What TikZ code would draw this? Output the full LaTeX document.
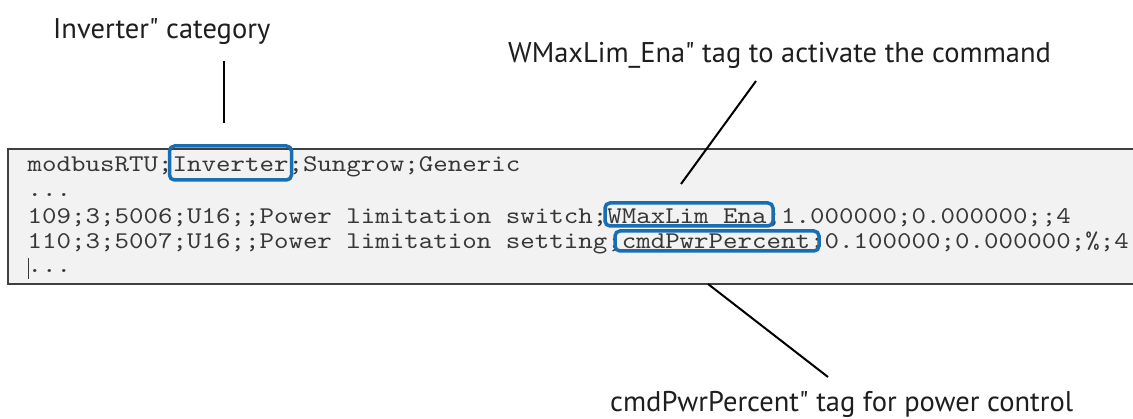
\documentclass[tikz,border=0pt]{standalone}
\usepackage{fontspec}
\newfontfamily\labelfont{PT Sans}
\newfontfamily\codefont[FakeStretch=1.15]{lmmono10-regular.otf}
\definecolor{tagblue}{RGB}{24,110,178}
\definecolor{codegray}{RGB}{242,242,242}
\definecolor{codetext}{RGB}{55,55,55}
\definecolor{labeltext}{RGB}{30,30,30}
\begin{document}
\begin{tikzpicture}[x=1pt,y=-1pt,
  lbl/.style={font=\labelfont\fontsize{28.5}{31}\selectfont, text=labeltext, anchor=base west, inner sep=0pt},
  codeline/.style={font=\codefont\fontsize{24}{26}\selectfont, text=codetext, anchor=base west, inner sep=0pt},
  tagbox/.style={draw=tagblue, line width=3.5pt, rounded corners=5pt, inner sep=0pt},
  leader/.style={draw=black, line width=2pt}]
\useasboundingbox (0,0) rectangle (1133,419);
% code panel
\fill[codegray] (8,149) rectangle (1140,284);
\draw[line width=1.4pt, draw=black!75] (1140,149) -- (8,149) -- (8,284) -- (1140,284);
% code lines
\node[codeline] (l1) at (27.5,172) {modbusRTU;Inverter;Sungrow;Generic};
\node[codeline] (l2) at (27.5,197) {...};
\node[codeline] (l3) at (27.5,224) {109;3;5006;U16;;Power limitation switch;WMaxLim Ena;1.000000;0.000000;;4};
\node[codeline] (l4) at (27.5,249) {110;3;5007;U16;;Power limitation setting;cmdPwrPercent;0.100000;0.000000;\%;4};
\node[codeline] (l5) at (27.5,273) {...};
\draw[line width=1pt, draw=codetext] (28,258) -- (28,279);
% tag boxes
\node[tagbox, minimum width=122pt, minimum height=34pt] (invbox) at (230.5,163) {};
\node[tagbox, minimum width=168pt, minimum height=23pt] (enabox) at (689,214.5) {};
\node[tagbox, minimum width=204pt, minimum height=20pt] (pwrbox) at (717,241) {};
% labels
\node[lbl] (invlabel) at (53,39) {Inverter" category};
\node[lbl] (enalabel) at (508,63) {WMaxLim\_Ena" tag to activate the command};
\node[lbl] (pwrlabel) at (610,412) {cmdPwrPercent" tag for power control};
% leader ends
\coordinate (invtop) at (224,61);
\coordinate (invbot) at (224,123);
\coordinate (enatop) at (756,81);
\coordinate (enabot) at (681,184);
\coordinate (pwrtop) at (708,284);
\coordinate (pwrbot) at (828,377);
\draw[leader] (invtop) -- (invbot);
\draw[leader] (enatop) -- (enabot);
\draw[leader] (pwrtop) -- (pwrbot);
\end{tikzpicture}
\end{document}
